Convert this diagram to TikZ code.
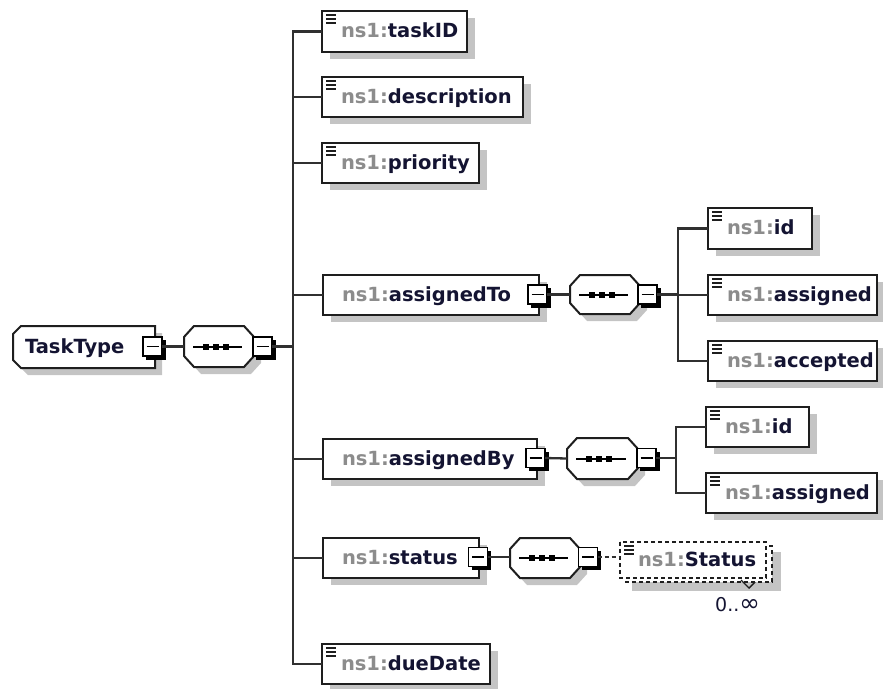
\documentclass[tikz,border=0pt]{standalone}
\usepackage{fontspec}
\setmainfont{DejaVu Sans}
\begin{document}
\definecolor{shadowc}{HTML}{C4C4C4}
\definecolor{connc}{HTML}{303030}
\definecolor{boxc}{HTML}{1E1E1E}
\definecolor{nsgray}{HTML}{8C8C8C}
\definecolor{namec}{HTML}{141432}
\tikzset{
  conn/.style={draw=connc, line width=2.3pt},
  elembox/.style={rectangle, draw=boxc, fill=white, line width=2pt, inner sep=0pt, outer sep=0pt},
  ghost/.style={rectangle, draw=none, inner sep=0pt, outer sep=0pt},
  outline/.style={draw=boxc, fill=white, line width=2pt},
  iconline/.style={draw=boxc, line width=1.7pt},
  lbl/.style={inner sep=0pt, outer sep=0pt, text=namec, font=\fontsize{19.5}{22}\selectfont\bfseries},
  minusbox/.style={rectangle, draw=black, fill=white, line width=1.9pt, minimum size=19pt, inner sep=0pt, outer sep=0pt},
  refline/.style={draw=boxc, fill=white, line width=1.9pt, dash pattern=on 4pt off 3pt},
}
% box outline with shadow, shared by all element boxes: name, left, top, right, bottom, local name
\newcommand\xsdbox[6]{%
  \fill[shadowc] ({#2+8},{#3+7}) rectangle ({#4+8},{#5+7});
  \node[elembox, anchor=north west, minimum width={#4-#2}, minimum height={#5-#3}] (#1) at (#2,#3) {};
  \node[lbl, anchor=base west] (#1-text) at ({#2+19},{(#3+#5)/2+6}) {\textcolor{nsgray}{ns1:}#6};
}
% simple-content element: adds the three-line content mark
\newcommand\xsdelem[6]{%
  \xsdbox{#1}{#2}{#3}{#4}{#5}{#6}
  \draw[iconline] ({#2+4},{#3+4}) -- ++(10,0) ({#2+4},{#3+8}) -- ++(10,0) ({#2+4},{#3+12}) -- ++(10,0);
}
% collapse button: name, centre x, centre y
\newcommand\xsdminus[3]{%
  \fill[black] ({#2-6.5},{#3-6.5}) rectangle ({#2+13},{#3+13});
  \node[minusbox] (#1) at (#2,#3) {};
  \draw[line width=1.8pt] ({#2-6},#3) -- ({#2+6},#3);
}
% sequence compositor: name, left, top, right, bottom
\newcommand\xsdseq[5]{%
  \fill[shadowc] ({#2+17},{#3+7}) -- ({#4-3},{#3+7}) -- ({#4+7},{#3+18}) -- ({#4+7},{#5-4}) -- ({#4-3},{#5+7}) -- ({#2+17},{#5+7}) -- ({#2+7},{#5-4}) -- ({#2+7},{#3+18}) -- cycle;
  \node[ghost, anchor=north west, minimum width={#4-#2}, minimum height={#5-#3}] (#1) at (#2,#3) {};
  \draw[outline] ({#2+10},#3) -- ({#4-10},#3) -- (#4,{#3+11}) -- (#4,{#5-11}) -- ({#4-10},#5) -- ({#2+10},#5) -- (#2,{#5-11}) -- (#2,{#3+11}) -- cycle;
  \draw[line width=2pt] ({#2+9},{(#3+#5)/2}) -- ({#4-12},{(#3+#5)/2});
  \foreach \d in {22,32,42} \fill ({#2+\d-3},{(#3+#5)/2-3}) rectangle ++(6,6);
}
\begin{tikzpicture}[x=1pt, y=-1pt]
\useasboundingbox (0,0) rectangle (883,688);

% root complex type
\fill[shadowc] (28,333) -- (162,333) -- (162,375) -- (28,375) -- (20,367) -- (20,341) -- cycle;
\node[ghost, anchor=north west, minimum width=142, minimum height=42] (tasktype) at (13,326) {};
\draw[outline] (21,326) -- (155,326) -- (155,368) -- (21,368) -- (13,360) -- (13,334) -- cycle;
\node[lbl, anchor=base west] (tasktype-text) at (25,353) {TaskType};
\xsdminus{ttm}{152.5}{346.5}

\xsdseq{seq0}{184}{326}{254}{367}
\xsdminus{seq0m}{262.5}{346.5}

% children of TaskType
\xsdelem{taskID}{322}{11}{467}{52}{taskID}
\xsdelem{description}{322}{77}{523}{117}{description}
\xsdelem{priority}{322}{143}{479}{183}{priority}
\xsdbox{assignedTo}{323}{275}{539}{315}{assignedTo}
\xsdbox{assignedBy}{323}{439}{537}{479}{assignedBy}
\xsdbox{status}{323}{538}{479}{578}{status}
\xsdelem{dueDate}{322}{644}{490}{684}{dueDate}

\xsdminus{atm}{537.5}{294.5}
\xsdminus{abm}{535.5}{458}
\xsdminus{stm}{478}{557}

% assignedTo content
\xsdseq{seq1}{570}{275}{640}{314}
\xsdminus{seq1m}{647.5}{294.5}
\xsdelem{aid}{708}{208}{812}{249}{id}
\xsdelem{aasg}{708}{275}{877}{315}{assigned}
\xsdelem{aacc}{708}{341}{877}{381}{accepted}

% assignedBy content
\xsdseq{seq2}{567}{438}{638}{479}
\xsdminus{seq2m}{646.5}{458}
\xsdelem{bid}{706}{407}{809}{447}{id}
\xsdelem{basg}{706}{473}{877}{513}{assigned}

% status content
\xsdseq{seq3}{510}{538}{580}{578}
\xsdminus{seq3m}{588}{557}
\fill[shadowc] (632,552) rectangle (781,591);
\draw[refline] (626,546) rectangle (772,582);
\node[ghost, anchor=north west, minimum width=146, minimum height=36] (statref) at (620,542) {};
\draw[refline] (620,542) rectangle (766,578);
\draw[iconline] (624,546) -- ++(10,0) (624,550) -- ++(10,0) (624,554) -- ++(10,0);
\node[lbl, anchor=base west] (statref-text) at (638,566) {\textcolor{nsgray}{ns1:}Status};
\draw[boxc, line width=1.4pt] (741,580) -- (749,588) -- (755,582);
\node[inner sep=0pt, text=namec, font=\fontsize{19}{21}\selectfont, anchor=base west] (occ) at (715,611) {0..\raisebox{-0.5pt}{\scalebox{1.3}{∞}}};

% connectors
\draw[conn] (ttm.east) -- (seq0.west);
\coordinate (t0) at (293,346.5);
\draw[conn] (seq0m.east) -- (t0);
\draw[conn] (taskID.west) -| (t0 |- dueDate.west) -- (dueDate.west);
\foreach \n in {description, priority, assignedTo, assignedBy, status}
  \draw[conn] (t0 |- \n.west) -- (\n.west);

\draw[conn] (atm.east) -- (seq1.west);
\coordinate (t1) at (678,294.5);
\draw[conn] (seq1m.east) -- (t1);
\draw[conn] (aid.west) -| (t1 |- aacc.west) -- (aacc.west);
\draw[conn] (t1 |- aasg.west) -- (aasg.west);

\draw[conn] (abm.east) -- (seq2.west);
\coordinate (t2) at (676,458);
\draw[conn] (seq2m.east) -- (t2);
\draw[conn] (bid.west) -| (t2 |- basg.west) -- (basg.west);

\draw[conn] (stm.east) -- (seq3.west |- stm.east);
\draw[conn, line width=1.9pt, dash pattern=on 4pt off 3pt] (seq3m.east) -- (seq3m.east -| statref.west);
\end{tikzpicture}
\end{document}
